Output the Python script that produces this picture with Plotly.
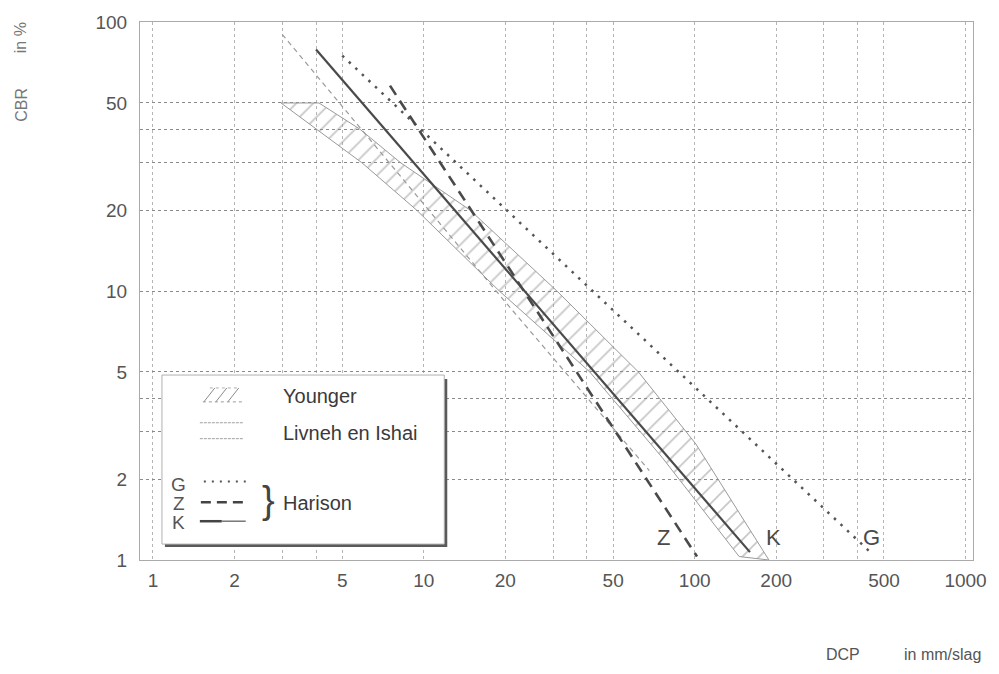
import numpy as np
import plotly.graph_objects as go

# ---------------- data ----------------
# Harison relations (DCP in mm/slag, CBR in %)
dcp_G = [5.0, 445]
cbr_G = [75, 1.07]
dcp_Z = [7.5, 102]
cbr_Z = [58, 1.03]
dcp_K = [4.0, 160]
cbr_K = [79, 1.07]

# Livneh en Ishai
dcp_L = [3.0, 20, 68]
cbr_L = [90, 9.1, 2.15]

# Younger band (lower-left and upper-right boundaries)
dcp_Y_left = [2.97, 4.0, 5.9, 9.4, 19, 41, 76, 146]
cbr_Y_left = [50, 40, 30, 20, 10, 5, 2.4, 1.03]
dcp_Y_right = [4.1, 5.8, 8.2, 14.8, 31, 62, 101, 188]
cbr_Y_right = [50, 40, 30, 20, 10, 5, 2.7, 1.0]

# curve end labels
curve_labels = ["Z", "K", "G"]
curve_label_dcp = [77, 195, 450]
curve_label_cbr = [1.21, 1.21, 1.21]

# axis ticks
x_tickvals = [1, 2, 3, 4, 5, 10, 20, 30, 40, 50, 100, 200, 300, 400, 500, 1000]
x_ticktext = ["1", "2", "", "", "5", "10", "20", "", "", "50", "100", "200", "", "", "500", "1000"]
y_tickvals = [1, 2, 3, 4, 5, 10, 20, 30, 40, 50, 100]
y_ticktext = ["1", "2", "", "", "5", "10", "20", "", "", "50", "100"]

# ---------------- figure ----------------
W, H = 999, 674
L_M, R_M, T_M, B_M = 140, 24, 19, 114
PW, PH = W - L_M - R_M, H - T_M - B_M


def px(x):
    return (x - L_M) / PW


def py(y):
    return (H - B_M - y) / PH


FONT = "Liberation Sans, Arial, sans-serif"
fig = go.Figure()

# Younger band (hatched)
band_x = dcp_Y_left + dcp_Y_right[::-1] + [dcp_Y_left[0]]
band_y = cbr_Y_left + cbr_Y_right[::-1] + [cbr_Y_left[0]]
fig.add_trace(go.Scatter(
    x=band_x, y=band_y, mode="lines", fill="toself",
    fillcolor="rgba(0,0,0,0)",
    fillpattern=dict(shape="/", fgcolor="#8e8e8e", size=12, solidity=0.14),
    line=dict(color="#9a9a9a", width=1), hoverinfo="skip", showlegend=False))

# Livneh en Ishai
fig.add_trace(go.Scatter(x=dcp_L, y=cbr_L, mode="lines",
                         line=dict(color="#9a9a9a", width=1.2, dash="5px,4px"),
                         showlegend=False))
# Harison G, Z, K
fig.add_trace(go.Scatter(x=dcp_G, y=cbr_G, mode="lines",
                         line=dict(color="#555555", width=2.5, dash="2.5px,6.5px"),
                         showlegend=False))
fig.add_trace(go.Scatter(x=dcp_Z, y=cbr_Z, mode="lines",
                         line=dict(color="#4a4a4a", width=2.6, dash="11px,7px"),
                         showlegend=False))
fig.add_trace(go.Scatter(x=dcp_K, y=cbr_K, mode="lines",
                         line=dict(color="#4a4a4a", width=2.2),
                         showlegend=False))


def pann(x, y, text, size, color, xanchor="center", angle=0):
    return dict(x=px(x), y=py(y), xref="paper", yref="paper", text=text,
                xanchor=xanchor, yanchor="middle", textangle=angle, showarrow=False,
                font=dict(family=FONT, size=size, color=color))


annotations = []
for t, xv, yv in zip(curve_labels, curve_label_dcp, curve_label_cbr):
    annotations.append(dict(x=np.log10(xv), y=np.log10(yv), xref="x", yref="y",
                            text=t, showarrow=False, xanchor="center", yanchor="middle",
                            font=dict(family=FONT, size=22, color="#4a4a4a")))

# axis titles
annotations += [
    pann(21, 35, "in %", 16, "#777777", angle=-90),
    pann(21, 102, "CBR", 16, "#777777", angle=-90),
    pann(845, 655, "DCP", 16, "#555555"),
    pann(904, 655, "in mm/slag", 16, "#555555", xanchor="left"),
]

# custom legend
shapes = [
    dict(type="rect", xref="paper", yref="paper", x0=px(165), x1=px(448), y0=py(378), y1=py(547),
         fillcolor="#5a5a5a", line=dict(width=0), layer="above"),
    dict(type="rect", xref="paper", yref="paper", x0=px(162), x1=px(445), y0=py(374), y1=py(544),
         fillcolor="white", line=dict(color="#b0b0b0", width=1), layer="above"),
]
# Younger swatch (hatch strokes)
for x0 in [204, 216, 228]:
    shapes.append(dict(type="line", xref="paper", yref="paper", x0=px(x0), x1=px(x0 + 11),
                       y0=py(401), y1=py(387), line=dict(color="#8a8a8a", width=1), layer="above"))
shapes.append(dict(type="line", xref="paper", yref="paper", x0=px(203), x1=px(243),
                   y0=py(401), y1=py(401), line=dict(color="#9a9a9a", width=1, dash="dot"), layer="above"))
shapes.append(dict(type="line", xref="paper", yref="paper", x0=px(210), x1=px(240),
                   y0=py(387), y1=py(387), line=dict(color="#b0b0b0", width=1, dash="dot"), layer="above"))
# Livneh swatch
for yy in [422, 438]:
    shapes.append(dict(type="line", xref="paper", yref="paper", x0=px(200), x1=px(244),
                       y0=py(yy), y1=py(yy), line=dict(color="#a0a0a0", width=1, dash="3px,1px"), layer="above"))
# G, Z, K swatches
shapes.append(dict(type="line", xref="paper", yref="paper", x0=px(204), x1=px(246),
                   y0=py(481), y1=py(481), line=dict(color="#555555", width=2, dash="2px,6px"), layer="above"))
shapes.append(dict(type="line", xref="paper", yref="paper", x0=px(201), x1=px(246),
                   y0=py(502), y1=py(502), line=dict(color="#444444", width=2.5, dash="10px,6px"), layer="above"))
shapes.append(dict(type="line", xref="paper", yref="paper", x0=px(200), x1=px(222),
                   y0=py(521), y1=py(521), line=dict(color="#444444", width=2.5), layer="above"))
shapes.append(dict(type="line", xref="paper", yref="paper", x0=px(222), x1=px(246),
                   y0=py(521), y1=py(521), line=dict(color="#777777", width=1.5), layer="above"))

annotations += [
    pann(281, 395, "Younger", 20, "#3a3a3a", xanchor="left"),
    pann(281, 432, "Livneh en Ishai", 20, "#3a3a3a", xanchor="left"),
    pann(179, 484, "G", 19, "#555555"),
    pann(179, 503, "Z", 19, "#555555"),
    pann(179, 522, "K", 19, "#555555"),
    pann(269, 500, "}", 38, "#444444"),
    pann(281, 503, "Harison", 20, "#3a3a3a", xanchor="left"),
]

x0_log = (L_M - 153) / 271.5
x1_log = (W - R_M - 153) / 271.5

fig.update_layout(
    width=W, height=H,
    margin=dict(l=L_M, r=R_M, t=T_M, b=B_M),
    paper_bgcolor="white", plot_bgcolor="white",
    showlegend=False,
    xaxis=dict(type="log", range=[x0_log, x1_log], tickvals=x_tickvals, ticktext=x_ticktext,
               showgrid=True, gridcolor="#b5b5b5", griddash="dot", gridwidth=1,
               showline=True, linecolor="#aaaaaa", linewidth=1, mirror=True,
               ticks="", ticklabelstandoff=3, zeroline=False,
               tickfont=dict(family=FONT, size=19, color="#555555")),
    yaxis=dict(type="log", range=[0, 2], tickvals=y_tickvals, ticktext=y_ticktext,
               showgrid=True, gridcolor="#8a8a8a", griddash="dot", gridwidth=1.4,
               showline=True, linecolor="#aaaaaa", linewidth=1, mirror=True,
               ticks="", ticklabelstandoff=8, zeroline=False,
               tickfont=dict(family=FONT, size=19, color="#555555")),
    shapes=shapes,
    annotations=annotations,
)

fig.write_html("out.html")
